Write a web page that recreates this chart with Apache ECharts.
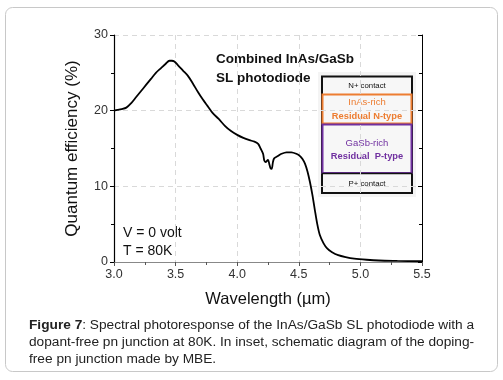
<!DOCTYPE html>
<html>
<head>
<meta charset="utf-8">
<script src="https://cdn.jsdelivr.net/npm/echarts@6/dist/echarts.min.js"></script>
<style>
  html, body { margin: 0; padding: 0; background: #fff; }
  #chart { width: 503px; height: 380px; }
</style>
</head>
<body>
<div id="chart"></div>
<script>
// wavelength (um) and quantum efficiency (%)
var wavelength = [3.00, 3.03, 3.06, 3.10, 3.14, 3.18, 3.22, 3.26, 3.30, 3.34, 3.38, 3.42, 3.45, 3.47, 3.49,
  3.52, 3.56, 3.60, 3.64, 3.68, 3.72, 3.76, 3.80, 3.85, 3.90, 3.95, 4.00, 4.05, 4.10, 4.14, 4.17, 4.19,
  4.21, 4.22, 4.23, 4.25, 4.26, 4.27, 4.28, 4.29, 4.30, 4.33, 4.36, 4.40, 4.44, 4.48, 4.51, 4.53, 4.55,
  4.57, 4.59, 4.61, 4.63, 4.65, 4.67, 4.70, 4.73, 4.77, 4.82, 4.88, 4.95, 5.05, 5.15, 5.30, 5.50];
var efficiency = [20.0, 20.1, 20.2, 20.4, 21.0, 21.8, 22.6, 23.4, 24.2, 25.0, 25.6, 26.2, 26.6, 26.6, 26.5,
  26.0, 25.3, 24.6, 23.6, 22.5, 21.5, 20.6, 19.7, 18.9, 18.0, 17.3, 16.8, 16.4, 16.1, 15.9, 15.6, 15.0,
  14.3, 13.4, 13.2, 13.5, 13.0, 12.4, 12.3, 13.2, 13.7, 14.0, 14.3, 14.5, 14.5, 14.3, 14.0, 13.6, 13.0,
  12.0, 10.6, 8.9, 6.9, 5.0, 3.6, 2.5, 1.8, 1.3, 0.9, 0.65, 0.45, 0.3, 0.2, 0.15, 0.1];

var xTicks = ["3.0", "3.5", "4.0", "4.5", "5.0", "5.5"];
var yTicks = ["0", "10", "20", "30"];

var font = "Liberation Sans, Arial, sans-serif";
var orange = "#ED7D31";
var purple = "#7030A0";

var chart = echarts.init(document.getElementById("chart"));

var points = wavelength.map(function (w, i) {
  return [w, efficiency[i]];
});

var option = {
  animation: false,
  grid: { left: 114, right: 81, top: 35, bottom: 118 },
  xAxis: [
    {
      type: "value",
      min: 3,
      max: 5.5,
      interval: 0.5,
      axisLine: { lineStyle: { color: "#000", width: 1.2 } },
      axisTick: { length: 4, lineStyle: { color: "#000" } },
      minorTick: { show: true, splitNumber: 2, length: 3, lineStyle: { color: "#000" } },
      axisLabel: {
        color: "#333",
        fontFamily: font,
        fontSize: 12.5,
        margin: 6,
        formatter: function (v) {
          return xTicks[Math.round((v - 3) / 0.5)];
        }
      },
      splitLine: { show: true, lineStyle: { color: "#d9d9d9", type: [5, 4] } },
      name: "Wavelength (\u00b5m)",
      nameLocation: "middle",
      nameGap: 29,
      nameTextStyle: { color: "#111", fontFamily: font, fontSize: 16.5 }
    },
    {
      type: "value",
      position: "top",
      min: 3,
      max: 5.5,
      interval: 0.5,
      axisLine: { show: true, lineStyle: { color: "#888" } },
      axisTick: { show: true, inside: true, length: 4, lineStyle: { color: "#555" } },
      minorTick: { show: true, splitNumber: 2, length: 3, lineStyle: { color: "#555" } },
      axisLabel: { show: false },
      splitLine: { show: false }
    }
  ],
  yAxis: [
    {
      type: "value",
      min: 0,
      max: 30,
      interval: 10,
      axisLine: { show: true, lineStyle: { color: "#000", width: 1.2 } },
      axisTick: { show: true, length: 4, lineStyle: { color: "#000" } },
      minorTick: { show: true, splitNumber: 2, length: 3, lineStyle: { color: "#000" } },
      axisLabel: {
        color: "#333",
        fontFamily: font,
        fontSize: 12.5,
        margin: 6,
        formatter: function (v) {
          return yTicks[Math.round(v / 10)];
        }
      },
      splitLine: { show: true, lineStyle: { color: "#d9d9d9", type: [5, 4] } },
      name: "Quantum efficiency (%)",
      nameLocation: "middle",
      nameGap: 33,
      nameTextStyle: { color: "#111", fontFamily: font, fontSize: 17 }
    },
    {
      type: "value",
      position: "right",
      min: 0,
      max: 30,
      interval: 10,
      axisLine: { show: true, lineStyle: { color: "#000" } },
      axisTick: { show: true, inside: true, length: 4, lineStyle: { color: "#000" } },
      minorTick: { show: true, splitNumber: 2, length: 3, lineStyle: { color: "#000" } },
      axisLabel: { show: false },
      splitLine: { show: false }
    }
  ],
  series: [
    {
      type: "line",
      data: points,
      symbol: "none",
      smooth: 0.3,
      lineStyle: { color: "#000", width: 1.8 },
      z: 5
    }
  ],
  graphic: [
    // outer frame
    {
      type: "rect",
      shape: { x: 5.5, y: 7.5, width: 492, height: 364, r: 7 },
      style: { fill: "none", stroke: "#c8c8c8", lineWidth: 1 },
      silent: true
    },
    // plot annotations
    {
      type: "text",
      x: 216, y: 50,
      style: {
        text: "Combined InAs/GaSb\nSL photodiode",
        font: "bold 13.5px " + font,
        fill: "#111",
        lineHeight: 19
      }
    },
    {
      type: "text",
      x: 123, y: 224,
      style: {
        text: "V = 0 volt\nT = 80K",
        font: "14px " + font,
        fill: "#111",
        lineHeight: 18
      }
    },
    // inset schematic
    {
      type: "group",
      z: 10,
      children: [
        { type: "rect", shape: { x: 318, y: 72, width: 98, height: 125 }, style: { fill: "#f4f4f4" } },
        { type: "rect", shape: { x: 322, y: 76.5, width: 90, height: 116.5 }, style: { fill: "#f7f7f7", stroke: "#111", lineWidth: 2 } },
        { type: "rect", shape: { x: 322.5, y: 94.5, width: 89, height: 29 }, style: { fill: "#f7f7f7", stroke: orange, lineWidth: 2 } },
        { type: "rect", shape: { x: 322.5, y: 124.5, width: 89, height: 48.5 }, style: { fill: "#f7f7f7", stroke: purple, lineWidth: 2 } },
        { type: "line", shape: { x1: 322, y1: 173.5, x2: 412, y2: 173.5 }, style: { stroke: "#111", lineWidth: 1.5 } },
        { type: "text", x: 367, y: 85.5, style: { text: "N+ contact", font: "7.8px " + font, fill: "#111", align: "center", verticalAlign: "middle" } },
        { type: "text", x: 367, y: 102.5, style: { text: "InAs-rich", font: "9.5px " + font, fill: orange, align: "center", verticalAlign: "middle" } },
        { type: "text", x: 367, y: 116, style: { text: "Residual N-type", font: "bold 9.3px " + font, fill: orange, align: "center", verticalAlign: "middle" } },
        { type: "text", x: 367, y: 143, style: { text: "GaSb-rich", font: "9.5px " + font, fill: purple, align: "center", verticalAlign: "middle" } },
        { type: "text", x: 367, y: 156.5, style: { text: "Residual  P-type", font: "bold 9.3px " + font, fill: purple, align: "center", verticalAlign: "middle" } },
        { type: "text", x: 367, y: 183.5, style: { text: "P+ contact", font: "7.8px " + font, fill: "#111", align: "center", verticalAlign: "middle" } }
      ]
    },
    // caption
    {
      type: "text",
      x: 29, y: 317,
      style: {
        text: "{b|Figure 7}: Spectral photoresponse of the InAs/GaSb SL photodiode with a\ndopant-free pn junction at 80K. In inset, schematic diagram of the doping-\nfree pn junction made by MBE.",
        font: "13.7px " + font,
        fill: "#222",
        lineHeight: 17,
        rich: {
          b: { font: "bold 13.7px " + font, fill: "#222" }
        }
      }
    }
  ]
};

chart.setOption(option);
</script>
</body>
</html>
